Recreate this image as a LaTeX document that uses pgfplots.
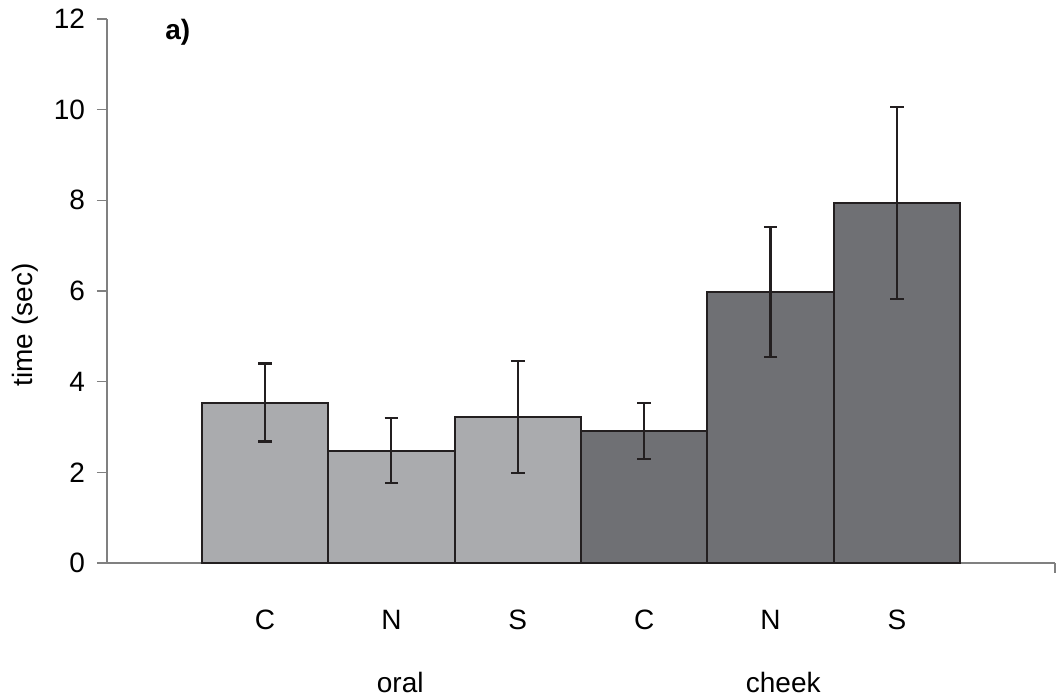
\documentclass[border=0pt]{standalone}
\usepackage{pgfplots}
\pgfplotsset{compat=1.18}
\usepackage{fontspec}
\setmainfont{Liberation Sans}

\definecolor{oralgray}{RGB}{170,171,174}
\definecolor{cheekgray}{RGB}{111,112,116}
\definecolor{edge}{RGB}{35,31,32}
\definecolor{axisgray}{RGB}{128,128,128}

\begin{document}
\begin{tikzpicture}[font=\fontsize{14}{17}\selectfont]
\begin{axis}[name=ax,
  scale only axis, width=474pt, height=272pt,
  xmin=-1.25, xmax=6.25, ymin=0, ymax=12,
  axis lines*=left,
  axis line style={axisgray, line width=0.8pt},
  clip=false,
  ybar, bar width=1, bar shift=0pt,
  ytick={0,2,...,12},
  tick align=outside, major tick length=5pt,
  ytick style={axisgray, line width=0.8pt},
  xtick={0,...,5}, xticklabels={C,N,S,C,N,S},
  xtick style={draw=none},
  xticklabel style={anchor=center, yshift=-23.5pt},
  /pgf/number format/assume math mode=true,
  yticklabel style={xshift=-2.5pt},
]
% oral condition
\addplot[fill=oralgray, draw=edge, line width=1pt,
  error bars/.cd, y dir=both, y explicit,
  error bar style={draw=edge, line width=1.1pt},
  error mark options={rotate=90, mark size=3.4pt, draw=edge, line width=1.1pt}]
  coordinates {(0,3.54) +- (0,0.86) (1,2.48) +- (0,0.72) (2,3.22) +- (0,1.24)};
% cheek condition
\addplot[fill=cheekgray, draw=edge, line width=1pt,
  error bars/.cd, y dir=both, y explicit,
  error bar style={draw=edge, line width=1.1pt},
  error mark options={rotate=90, mark size=3.4pt, draw=edge, line width=1.1pt}]
  coordinates {(3,2.91) +- (0,0.62) (4,5.98) +- (0,1.43) (5,7.94) +- (0,2.11)};

\node at (axis cs:1.07,-2.625) {oral};
\node at (axis cs:4.1,-2.625) {cheek};
\node[rotate=90] at (axis cs:-1.899,5.25) {time (sec)};
\node[font=\fontsize{14}{17}\selectfont\bfseries] at (axis cs:-0.69,11.71) {a)};
\end{axis}
% closing tick at the right end of the category axis
\draw[axisgray, line width=0.8pt] (ax.south east) -- ++(0,-5pt);
\path (ax.south west) ++(-53.5pt,-68.5pt) rectangle ++(529.5pt,350pt);
\end{tikzpicture}
\end{document}
